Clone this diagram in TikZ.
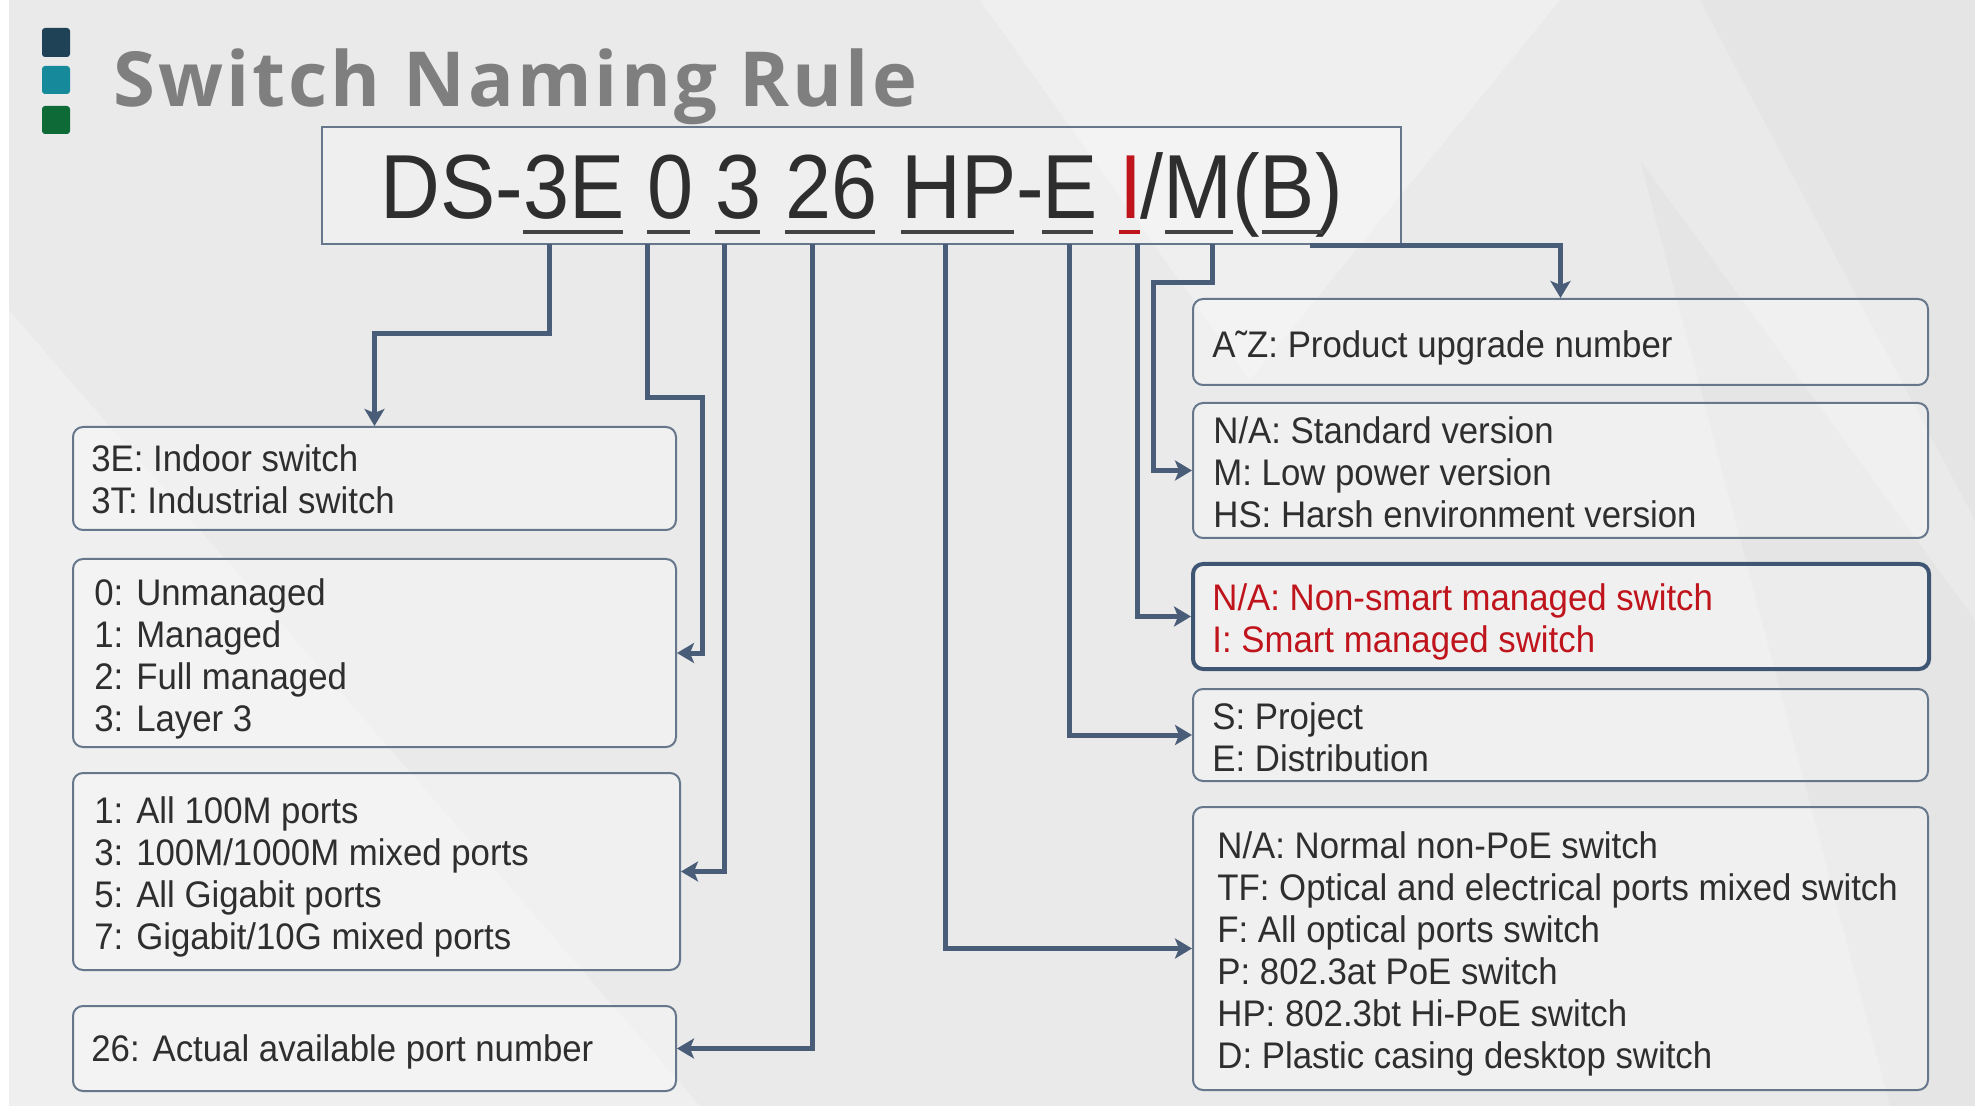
\documentclass[tikz,border=0pt]{standalone}
\usepackage{fontspec}
\setmainfont[FakeStretch=0.94]{Liberation Sans}
\newfontfamily\codefont[FakeStretch=0.91]{Liberation Sans}
\newfontfamily\titlefont[LetterSpace=4]{Open Sans}
\usetikzlibrary{arrows.meta,fit}
\definecolor{bg}{HTML}{EAEAEA}
\definecolor{bglight}{HTML}{EFEFEF}
\definecolor{bgdark}{HTML}{E5E5E5}
\definecolor{linec}{HTML}{4A5D78}
\definecolor{boxc}{HTML}{66768B}
\definecolor{boxdark}{HTML}{3E5573}
\definecolor{txt}{HTML}{2E2E2E}
\definecolor{redt}{HTML}{C0141C}
\definecolor{sqa}{HTML}{1F4257}
\definecolor{sqb}{HTML}{16899B}
\definecolor{sqc}{HTML}{0E6B38}
\definecolor{titlec}{HTML}{7F7F7F}
\tikzset{
  infobox/.style={draw=boxc, line width=1pt, rounded corners=5pt, fill=white, fill opacity=0.3, text opacity=1, inner sep=0pt},
  codebox/.style={draw=boxc, line width=1pt, fill=white, fill opacity=0.25, inner sep=0pt},
  infotext/.style={inner sep=0pt, align=left, text=txt, font=\fontsize{18.5pt}{21pt}\selectfont},
  redtext/.style={infotext, text=redt},
  codetok/.style={inner sep=0pt, anchor=base west, text=txt, font=\codefont\fontsize{45.5pt}{50pt}\selectfont},
  uline/.style={draw=txt!90, line width=2.4pt},
  conn/.style={draw=linec, line width=2.5pt, -{Stealth[length=8.5pt,width=10pt,inset=2pt]}},
  sq/.style={rounded corners=1.5pt}
}
\begin{document}
\begin{tikzpicture}[x=0.5pt,y=-0.5pt]
\useasboundingbox (0,0) rectangle (1975,1106);
% background
\fill[bg] (0,0) rectangle (1975,1106);
\fill[bglight] (0,300) -- (700,1106) -- (0,1106) -- cycle;
\fill[bglight] (980,0) -- (1560,0) -- (1250,380) -- cycle;
\fill[bgdark] (1700,0) -- (1975,0) -- (1975,520) -- cycle;
\fill[bgdark] (1640,160) -- (1975,620) -- (1975,1106) -- (1890,1106) -- cycle;
\fill[white] (0,0) rectangle (9,1106);
% title
\fill[sqa, sq] (42,28) rectangle (70,57);
\fill[sqb, sq] (42,66) rectangle (70,94);
\fill[sqc, sq] (42,106) rectangle (70,134);
\node[inner sep=0pt, anchor=base west, text=titlec, font=\titlefont\bfseries\fontsize{38pt}{40pt}\selectfont] (title) at (113,107) {Switch Naming Rule};
% code
\node[codebox, fit={(322,127) (1401,244)}] (code) {};
\node[codetok] (tDS) at (380,219) {DS-};
\node[codetok] (t3E) at (523,219) {3E};
\node[codetok] (t0) at (647,219) {0};
\node[codetok] (t3) at (715,219) {3};
\node[codetok] (t26) at (785,219) {26};
\node[codetok] (tHP) at (901,219) {HP-};
\node[codetok] (tE) at (1042,219) {E};
\node[codetok, text=redt] (tI) at (1119,219) {I};
\node[codetok] (tM) at (1140,219) {/M(B)};
\draw[uline] (523,232) -- (623,232);
\draw[uline] (647,232) -- (690,232);
\draw[uline] (715,232) -- (760,232);
\draw[uline] (785,232) -- (875,232);
\draw[uline] (901,232) -- (1014,232);
\draw[uline] (1042,232) -- (1093,232);
\draw[uline, draw=redt] (1119,232) -- (1140,232);
\draw[uline] (1165,232) -- (1233,232);
\draw[uline] (1262,232) -- (1323,232);
% left boxes
\node[infobox, fit={(73,427) (676,530)}] (b1) {};
\node[infobox, fit={(73,559) (676,747)}] (b2) {};
\node[infobox, fit={(73,773) (680,970)}] (b3) {};
\node[infobox, fit={(73,1006) (676,1091)}] (b4) {};
\node[infotext, anchor=west] (b1t) at (91,479) {3E: Indoor switch\\3T: Industrial switch};
\node[infotext, anchor=west] (b2t) at (94,659) {0: Unmanaged\\1: Managed\\2: Full managed\\3: Layer 3};
\node[infotext, anchor=west] (b3t) at (94,877) {1: All 100M ports\\3: 100M/1000M mixed ports\\5: All Gigabit ports\\7: Gigabit/10G mixed ports};
\node[infotext, anchor=west] (b4t) at (91,1052) {26: Actual available port number};
% right boxes
\node[infobox, fit={(1193,299) (1928,385)}] (ra) {};
\node[infobox, fit={(1193,403) (1928,538)}] (rb) {};
\node[infobox, draw=boxdark, line width=2pt, fit={(1193,564) (1929,669)}] (rc) {};
\node[infobox, fit={(1193,689) (1928,781)}] (rd) {};
\node[infobox, fit={(1193,807) (1928,1090)}] (re) {};
\node[infotext, anchor=west] (rat) at (1212,348) {A˜Z: Product upgrade number};
\node[infotext, anchor=west] (rbt) at (1213,472) {N/A: Standard version\\M: Low power version\\HS: Harsh environment version};
\node[redtext, anchor=west] (rct) at (1212,622) {N/A: Non-smart managed switch\\I: Smart managed switch};
\node[infotext, anchor=west] (rdt) at (1212,737) {S: Project\\E: Distribution};
\node[infotext, anchor=west] (ret) at (1217,954) {N/A: Normal non-PoE switch\\TF: Optical and electrical ports mixed switch\\F: All optical ports switch\\P: 802.3at PoE switch\\HP: 802.3bt Hi-PoE switch\\D: Plastic casing desktop switch};
% connector start points
\coordinate (s1) at (549,244);
\coordinate (s2) at (647,244);
\coordinate (s3) at (724,244);
\coordinate (s4) at (812,244);
\coordinate (s5) at (945,244);
\coordinate (s6) at (1069,244);
\coordinate (s7) at (1137,244);
\coordinate (s8) at (1212,244);
\coordinate (s9) at (1310,246);
% connectors
\draw[conn] (s1) -- (549,334) -| (b1.north);
\draw[conn] (s2) |- (702,398) |- (b2.east);
\draw[conn] (s3) |- (b3.east);
\draw[conn] (s4) |- (b4.east);
\draw[conn] (s5) |- (re.west);
\draw[conn] (s6) |- (rd.west);
\draw[conn] (s7) |- (rc.west);
\draw[conn] (s8) |- (1153,283) |- (rb.west);
\draw[conn] (s9) -| (ra.north);
\end{tikzpicture}
\end{document}
